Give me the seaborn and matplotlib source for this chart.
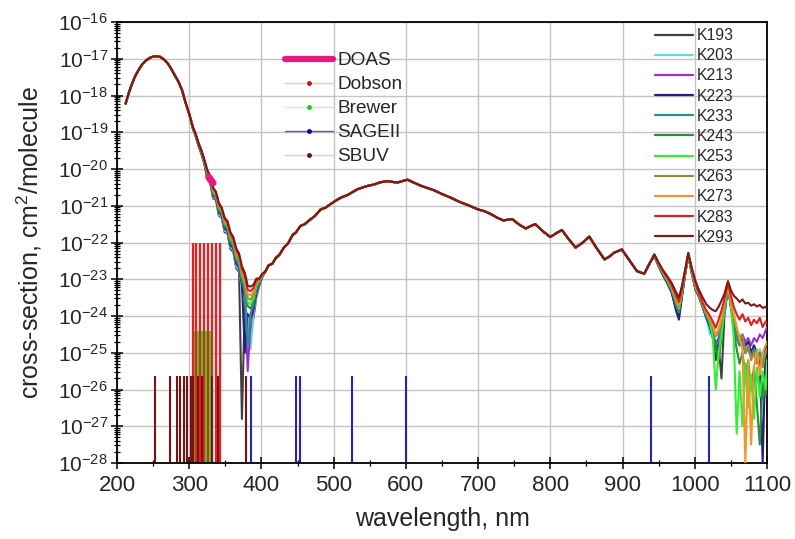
import numpy as np
import pandas as pd
import matplotlib
matplotlib.use("Agg")
import matplotlib.pyplot as plt
import seaborn as sns
from matplotlib.lines import Line2D
from matplotlib.ticker import (LogLocator, MultipleLocator, FixedLocator,
                               LogFormatterSciNotation, NullFormatter)

# ---------------- data (log10 of cross-section, cm^2/molecule) ----------------
series_names = ["K193", "K203", "K213", "K223", "K233", "K243",
                "K253", "K263", "K273", "K283", "K293"]
series_colors = ["#404040", "#5fd8e0", "#9b30d0", "#23237e", "#2f8f8f", "#2e8b3a",
                 "#33ee33", "#9a8a40", "#f0962a", "#e02020", "#7a1a1a"]

# Hartley band (common to all temperatures)
wl_hartley = [212, 216, 220, 225, 230, 235, 240, 245, 250, 255, 260, 265, 270,
              275, 280, 285, 290, 295, 300]
log_hartley = [-18.22, -17.95, -17.72, -17.48, -17.30, -17.15, -17.05, -16.98, -16.94,
               -16.93, -16.95, -17.02, -17.12, -17.27, -17.45, -17.62, -17.85, -18.20, -18.50]

# Huggins band (temperature dependent)
wl_huggins = [305, 309, 313, 317, 321, 325, 329, 333, 337, 341, 345, 349, 353,
              357, 361, 365, 369, 373, 377, 381, 385, 389, 393, 397, 401]
hug_K293 = [-18.85, -19.05, -19.30, -19.50, -19.75, -20.02, -20.20, -20.50, -20.62, -20.92, -21.05, -21.32, -21.42,
            -21.72, -21.85, -22.15, -22.30, -22.65, -22.82, -23.18, -23.20, -23.15, -22.98, -22.98, -22.85]
hug_K283 = [-18.86, -19.06, -19.31, -19.51, -19.76, -20.05, -20.22, -20.53, -20.64, -20.96, -21.08, -21.36, -21.45,
            -21.77, -21.89, -22.21, -22.35, -22.72, -22.90, -23.29, -23.32, -23.24, -23.03, -23.00, -22.86]
hug_K273 = [-18.86, -19.06, -19.32, -19.52, -19.77, -20.07, -20.23, -20.56, -20.66, -20.99, -21.10, -21.40, -21.49,
            -21.81, -21.93, -22.26, -22.40, -22.78, -22.98, -23.40, -23.44, -23.33, -23.08, -23.02, -22.87]
hug_K263 = [-18.87, -19.07, -19.32, -19.53, -19.79, -20.10, -20.25, -20.59, -20.69, -21.03, -21.13, -21.44, -21.52,
            -21.86, -21.97, -22.32, -22.45, -22.85, -23.06, -23.51, -23.56, -23.42, -23.13, -23.04, -22.88]
hug_K253 = [-18.87, -19.07, -19.33, -19.54, -19.80, -20.12, -20.27, -20.62, -20.71, -21.06, -21.16, -21.48, -21.55,
            -21.90, -22.01, -22.37, -22.50, -22.91, -23.14, -23.62, -23.68, -23.51, -23.18, -23.06, -22.89]
hug_K243 = [-18.88, -19.08, -19.34, -19.55, -19.81, -20.15, -20.29, -20.65, -20.73, -21.10, -21.19, -21.52, -21.59,
            -21.95, -22.05, -22.43, -22.55, -22.98, -23.22, -23.73, -23.80, -23.60, -23.23, -23.08, -22.90]
hug_K233 = [-18.88, -19.09, -19.35, -19.56, -19.82, -20.17, -20.30, -20.68, -20.75, -21.13, -21.21, -21.56, -21.62,
            -22.00, -22.09, -22.48, -22.60, -23.04, -23.30, -24.80, -23.92, -23.69, -23.28, -23.10, -22.91]
hug_K223 = [-18.89, -19.09, -19.36, -19.57, -19.83, -20.20, -20.32, -20.71, -20.77, -21.17, -21.24, -21.60, -21.65,
            -22.04, -22.13, -22.54, -22.65, -23.11, -25.00, -23.95, -24.04, -23.78, -23.33, -23.12, -22.92]
hug_K213 = [-18.89, -19.10, -19.36, -19.58, -19.85, -20.22, -20.34, -20.74, -20.80, -21.20, -21.27, -21.64, -21.68,
            -22.09, -22.17, -22.59, -22.70, -23.17, -23.46, -25.50, -24.16, -23.87, -23.38, -23.14, -22.93]
hug_K203 = [-18.90, -19.10, -19.37, -19.59, -19.86, -20.25, -20.35, -20.77, -20.82, -21.24, -21.29, -21.68, -21.72,
            -22.13, -22.21, -22.65, -22.75, -23.24, -23.54, -24.17, -24.90, -23.96, -23.43, -23.16, -22.94]
hug_K193 = [-18.90, -19.11, -19.38, -19.60, -19.87, -20.27, -20.37, -20.80, -20.84, -21.27, -21.32, -21.72, -21.75,
            -22.18, -22.25, -22.70, -22.80, -26.80, -23.62, -24.28, -24.40, -24.05, -23.48, -23.18, -22.95]

# Chappuis / Wulf bands (common)
wl_chappuis = [405, 410, 415, 420, 425, 431, 437, 443, 448, 454, 460, 466, 474, 482, 489, 496,
               503, 510, 520, 533, 545, 556, 565, 574, 581, 588, 595, 602, 610, 620, 630, 639,
               650, 662, 675, 688, 700, 709, 717, 726, 735, 741, 747, 756, 766, 772, 779, 790,
               800, 808, 816, 825, 835, 845, 854, 864, 875, 882, 888, 899, 910, 920, 930, 938]
log_chappuis = [-22.80, -22.62, -22.58, -22.42, -22.33, -22.14, -22.02, -21.80, -21.72, -21.55,
                -21.50, -21.40, -21.28, -21.10, -21.05, -20.95, -20.86, -20.78, -20.70, -20.55,
                -20.47, -20.42, -20.36, -20.33, -20.35, -20.37, -20.33, -20.29, -20.36, -20.45,
                -20.52, -20.58, -20.68, -20.78, -20.90, -21.00, -21.10, -21.15, -21.22, -21.32,
                -21.40, -21.38, -21.36, -21.50, -21.62, -21.56, -21.50, -21.70, -21.85, -21.75,
                -21.66, -21.90, -22.14, -22.00, -21.84, -22.15, -22.46, -22.38, -22.28, -22.19,
                -22.50, -22.78, -22.85, -22.55]

# Near infrared (temperature dependent, noisy)
wl_nir = [944, 950, 956, 962, 968, 974, 978, 982, 987, 991, 996, 1001, 1006, 1011, 1016, 1021,
          1025, 1029, 1033, 1037, 1041, 1046, 1050, 1054, 1058, 1062, 1066, 1070, 1074, 1078,
          1082, 1086, 1090, 1094, 1098, 1100]
nir_K293 = [-22.32, -22.55, -22.75, -22.92, -23.10, -23.35, -23.50, -23.20, -22.70, -22.28, -22.70, -23.05,
            -23.30, -23.50, -23.68, -23.78, -23.84, -23.87, -23.75, -23.58, -23.40, -23.05, -23.30, -23.45,
            -23.52, -23.62, -23.55, -23.66, -23.64, -23.72, -23.68, -23.74, -23.70, -23.78, -23.75, -23.80]
nir_K283 = [-22.33, -22.57, -22.78, -22.96, -23.16, -23.45, -23.62, -23.28, -22.74, -22.30, -22.74, -23.12,
            -23.40, -23.65, -23.85, -24.00, -24.15, -24.32, -24.10, -23.85, -23.55, -23.10, -23.45, -23.75,
            -23.95, -24.10, -23.95, -24.15, -24.05, -24.25, -24.10, -24.20, -24.05, -24.30, -24.15, -24.20]
nir_K273 = [-22.34, -22.58, -22.80, -22.99, -23.20, -23.52, -23.70, -23.32, -22.76, -22.31, -22.76, -23.16,
            -23.42, -23.65, -23.90, -24.05, -24.25, -24.50, -24.35, -24.05, -23.65, -23.12, -23.55, -23.95,
            -24.30, -24.60, -24.90, -28.00, -25.20, -27.50, -25.40, -24.90, -25.60, -25.00, -24.80, -24.70]
nir_K263 = [-22.34, -22.59, -22.81, -23.01, -23.22, -23.56, -23.75, -23.35, -22.77, -22.32, -22.78, -23.19,
            -23.44, -23.68, -23.93, -24.10, -24.30, -24.55, -24.45, -24.15, -23.72, -23.14, -23.60, -24.00,
            -24.35, -24.70, -24.50, -25.00, -24.80, -25.20, -25.00, -25.30, -25.10, -25.40, -25.00, -24.90]
nir_K253 = [-22.35, -22.60, -22.83, -23.03, -23.26, -23.60, -23.80, -23.38, -22.78, -22.33, -22.80, -23.22,
            -23.45, -23.70, -23.95, -24.15, -24.60, -26.00, -25.00, -24.50, -23.80, -23.16, -23.70, -24.60,
            -27.20, -25.50, -27.00, -25.30, -26.50, -25.60, -26.80, -25.40, -26.20, -25.50, -26.00, -25.20]
nir_K243 = [-22.35, -22.61, -22.84, -23.05, -23.28, -23.65, -23.85, -23.40, -22.79, -22.34, -22.81, -23.24,
            -23.46, -23.72, -23.98, -24.20, -24.45, -24.80, -25.20, -24.60, -23.85, -23.18, -23.75, -24.40,
            -24.90, -25.30, -25.00, -25.60, -25.20, -26.00, -25.40, -26.40, -27.50, -25.80, -26.20, -25.50]
nir_K233 = [-22.36, -22.62, -22.85, -23.07, -23.30, -23.70, -23.90, -23.43, -22.80, -22.35, -22.82, -23.26,
            -23.47, -23.74, -24.00, -24.25, -24.55, -24.80, -24.70, -24.30, -23.90, -23.20, -23.70, -24.20,
            -24.60, -24.80, -24.70, -25.00, -24.90, -25.10, -24.90, -25.20, -25.00, -25.30, -25.00, -24.90]
nir_K223 = [-22.37, -22.64, -22.88, -23.10, -23.35, -23.85, -24.10, -23.50, -22.82, -22.36, -22.84, -23.28,
            -23.48, -23.76, -24.05, -24.30, -24.60, -24.90, -24.70, -24.30, -23.90, -23.20, -23.70, -24.20,
            -24.50, -24.70, -24.60, -24.80, -24.70, -25.00, -24.80, -25.00, -25.20, -28.00, -24.90, -24.80]
nir_K213 = [-22.37, -22.65, -22.89, -23.11, -23.36, -23.80, -24.00, -23.48, -22.82, -22.36, -22.84, -23.28,
            -23.48, -23.75, -24.02, -24.25, -24.50, -24.75, -24.60, -24.25, -23.85, -23.20, -23.65, -24.10,
            -24.40, -24.60, -24.50, -24.70, -24.60, -24.80, -24.60, -24.70, -24.50, -24.60, -24.40, -24.30]
nir_K203 = [-22.36, -22.64, -22.88, -23.10, -23.34, -23.75, -23.95, -23.45, -22.81, -22.35, -22.83, -23.27,
            -23.47, -23.74, -24.02, -24.50, -24.50, -24.90, -24.60, -24.30, -23.90, -23.20, -23.70, -24.20,
            -24.50, -24.70, -24.60, -24.90, -24.70, -25.00, -24.80, -25.10, -24.90, -25.20, -24.90, -24.80]
nir_K193 = [-22.36, -22.64, -22.88, -23.10, -23.35, -23.78, -24.00, -23.47, -22.82, -22.36, -22.84, -23.28,
            -23.48, -23.76, -24.05, -24.30, -24.55, -25.20, -24.80, -25.70, -24.00, -23.20, -23.75, -24.20,
            -24.60, -24.80, -24.70, -25.00, -24.80, -25.10, -24.90, -25.20, -25.00, -25.30, -25.00, -24.90]

# Instrument wavelengths (vertical bars) and bar heights
dobson_wl = [305, 310, 315, 321, 326, 332, 337, 342]
dobson_top = 1e-22
brewer_wl = [306, 309, 312, 315, 318, 321, 324, 327, 330]
brewer_top = 4e-25
sbuv_wl = [252.0, 273.6, 283.1, 287.7, 292.3, 297.6, 301.9, 305.8, 312.5, 317.5, 331.2, 339.8, 378.6]
sbuv_top = 2.4e-26
sage_wl = [385, 448, 453, 525, 600, 940, 1020]
sage_top = 2.4e-26
doas_wl = [327, 330, 333]
doas_log = [-20.22, -20.30, -20.38]

# axis decades shown
y_decades = list(range(-28, -15))

# ---------------- assemble ----------------
huggins = {"K193": hug_K193, "K203": hug_K203, "K213": hug_K213, "K223": hug_K223,
           "K233": hug_K233, "K243": hug_K243, "K253": hug_K253, "K263": hug_K263,
           "K273": hug_K273, "K283": hug_K283, "K293": hug_K293}
nir = {"K193": nir_K193, "K203": nir_K203, "K213": nir_K213, "K223": nir_K223,
       "K233": nir_K233, "K243": nir_K243, "K253": nir_K253, "K263": nir_K263,
       "K273": nir_K273, "K283": nir_K283, "K293": nir_K293}
rows = []
for name in series_names:
    wl = wl_hartley + wl_huggins + wl_chappuis + wl_nir
    lg = log_hartley + huggins[name] + log_chappuis + nir[name]
    for w, v in zip(wl, lg):
        rows.append((name, w, 10.0 ** v))
df = pd.DataFrame(rows, columns=["series", "wl", "sigma"])

# ---------------- style ----------------
sns.set_style("ticks")
plt.rcParams["font.family"] = ["Liberation Sans", "DejaVu Sans"]
plt.rcParams["axes.unicode_minus"] = False
plt.rcParams["mathtext.fontset"] = "custom"
plt.rcParams["mathtext.rm"] = "Liberation Sans"

fig = plt.figure(figsize=(7.95, 5.39), dpi=100)
ax = fig.add_axes([117 / 795, 1 - 463 / 539, 650 / 795, 441 / 539])
ax.set_yscale("log")

# bars
ax.vlines(brewer_wl, 1e-28, brewer_top, colors="#22ee22", lw=2.6, zorder=2)
ax.vlines(dobson_wl, 1e-28, dobson_top, colors="#e02424", lw=1.7, zorder=2.1)
ax.vlines(sbuv_wl, 1e-28, sbuv_top, colors="#7a1212", lw=1.5, zorder=2.2)
ax.vlines(sage_wl, 1e-28, sage_top, colors="#2424b8", lw=1.5, zorder=2.2)

# spectra
for name, col in zip(series_names, series_colors):
    sns.lineplot(data=df[df["series"] == name], x="wl", y="sigma", color=col, lw=1.5,
                 estimator=None, sort=False, ax=ax, legend=False, zorder=3)

# DOAS
ax.plot(doas_wl, [10.0 ** v for v in doas_log], color="#e8197d", lw=5, solid_capstyle="round", zorder=4)

ax.set_xlim(200, 1100)
ax.set_ylim(1e-28, 1e-16)
ax.xaxis.set_major_locator(MultipleLocator(100))
ax.xaxis.set_minor_locator(MultipleLocator(50))
ax.yaxis.set_major_locator(FixedLocator([10.0 ** k for k in y_decades]))
ax.yaxis.set_minor_locator(FixedLocator([m * 10.0 ** k for k in y_decades[:-1] for m in range(2, 10)]))
ax.yaxis.set_major_formatter(LogFormatterSciNotation())
ax.yaxis.set_minor_formatter(NullFormatter())
ax.tick_params(which="major", direction="inout", length=9, width=1.1, color="black")
ax.tick_params(which="minor", direction="inout", length=5, width=0.9, color="black")
ax.tick_params(axis="x", which="major", labelsize=16, pad=4)
ax.tick_params(axis="y", which="major", labelsize=15, pad=2)
ax.grid(True, which="major", color="#c4c4c4", lw=1.0)
ax.set_axisbelow(True)
for sp in ax.spines.values():
    sp.set_visible(True)
    sp.set_color("black")
    sp.set_linewidth(1.3)

ax.set_xlabel("wavelength, nm", fontsize=18)
ax.set_ylabel("cross-section, cm$^{2}$/molecule", fontsize=18)
ax.xaxis.set_label_coords(0.5, -0.10)
ax.yaxis.set_label_coords(-0.112, 0.5)

# legend 1 (measurement techniques)
h1 = [Line2D([], [], color="#e8197d", lw=4.5),
      Line2D([], [], color="#f2c4c4", lw=1, marker="o", ms=2.5, mfc="#c0141a", mec="#c0141a"),
      Line2D([], [], color="#c8f0c8", lw=1, marker="o", ms=2.5, mfc="#22cc22", mec="#22cc22"),
      Line2D([], [], color="#5a5aa8", lw=1, marker="o", ms=2.5, mfc="#0000b0", mec="#0000b0"),
      Line2D([], [], color="#e6cccc", lw=1, marker="o", ms=2.5, mfc="#6b0f0f", mec="#6b0f0f")]
l1 = ["DOAS", "Dobson", "Brewer", "SAGEII", "SBUV"]
leg1 = ax.legend(h1, l1, loc="upper left", bbox_to_anchor=(285 / 795, 1 - 52 / 539),
                 bbox_transform=fig.transFigure, frameon=False, fontsize=13.7,
                 handlelength=2.5, handletextpad=0.25, labelspacing=0.35,
                 borderpad=0, borderaxespad=0)
ax.add_artist(leg1)

# legend 2 (temperatures)
h2 = [Line2D([], [], color=c, lw=1.6) for c in series_colors]
ax.legend(h2, series_names, loc="upper left", bbox_to_anchor=(655 / 795, 1 - 28 / 539),
          bbox_transform=fig.transFigure, frameon=False, fontsize=11.3,
          handlelength=2.4, handletextpad=0.25, labelspacing=0.33,
          borderpad=0, borderaxespad=0)

fig.savefig("out.png", dpi=100)
